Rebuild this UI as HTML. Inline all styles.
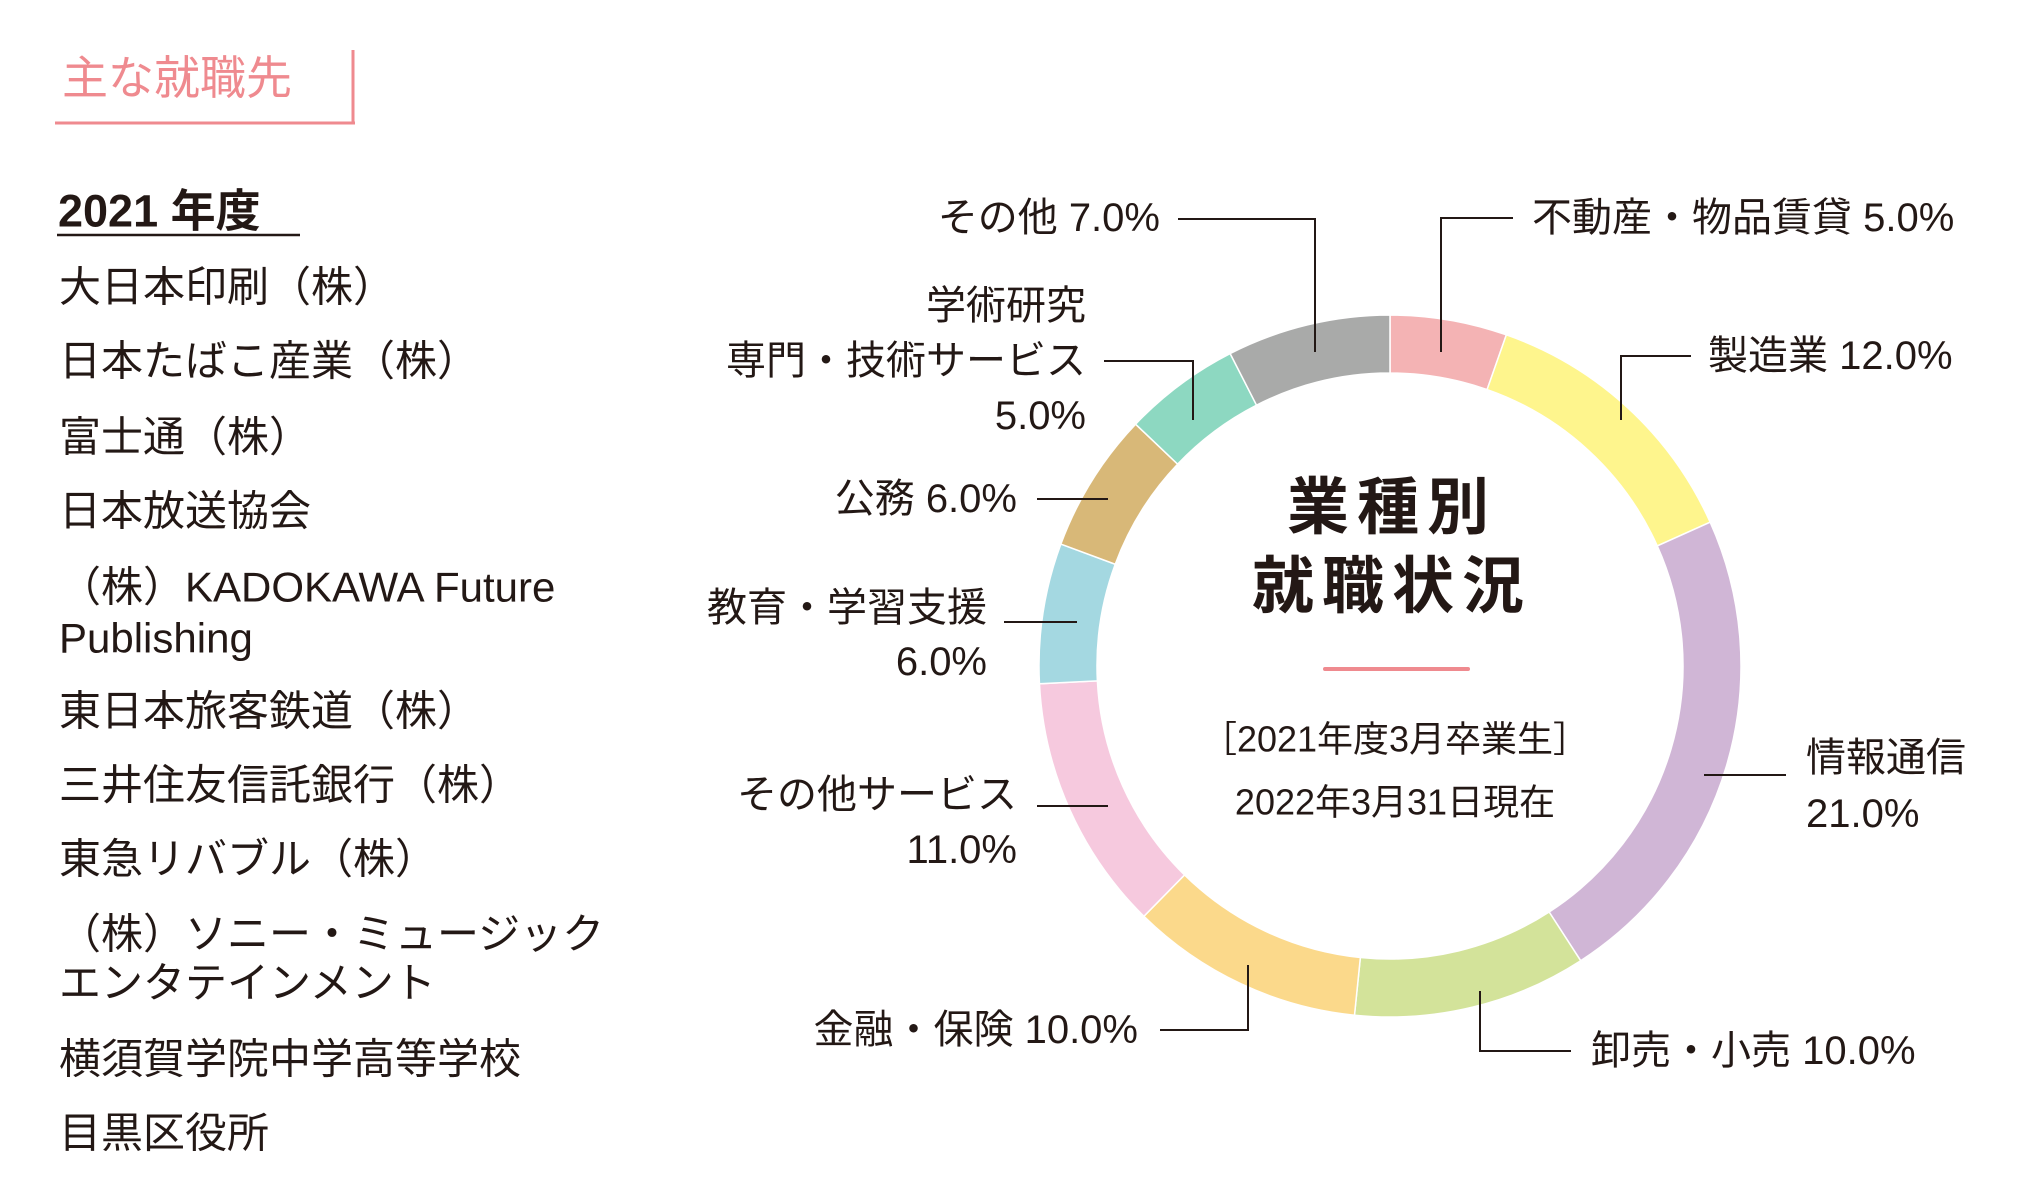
<!DOCTYPE html>
<html><head><meta charset="utf-8"><style>
html,body{margin:0;padding:0;background:#fff;}
svg{display:block;font-family:"Liberation Sans","Noto Sans CJK JP",sans-serif;}
</style></head><body>
<svg id="chart" width="2035" height="1200" viewBox="0 0 2035 1200">
<g>
<text x="62" y="78" font-size="46" fill="#ef8a8f" dominant-baseline="central">主な就職先</text>
<line x1="55" y1="123" x2="355" y2="123" stroke="#ef8a8f" stroke-width="3"/>
<line x1="353" y1="50" x2="353" y2="124" stroke="#ef8a8f" stroke-width="3"/>
</g>
<g fill="#231815" font-size="42">
<text x="58" y="211" font-size="45" font-weight="bold" dominant-baseline="central">2021 年度</text>
<line x1="57" y1="235" x2="300" y2="235" stroke="#231815" stroke-width="2.5"/>
<text x="59" y="287" dominant-baseline="central">大日本印刷（株）</text>
<text x="59" y="361" dominant-baseline="central">日本たばこ産業（株）</text>
<text x="59" y="437" dominant-baseline="central">富士通（株）</text>
<text x="59" y="511" dominant-baseline="central">日本放送協会</text>
<text x="59" y="587" dominant-baseline="central">（株）KADOKAWA Future</text>
<text x="59" y="638" dominant-baseline="central">Publishing</text>
<text x="59" y="711" dominant-baseline="central">東日本旅客鉄道（株）</text>
<text x="59" y="785" dominant-baseline="central">三井住友信託銀行（株）</text>
<text x="59" y="859" dominant-baseline="central">東急リバブル（株）</text>
<text x="59" y="934" dominant-baseline="central">（株）ソニー・ミュージック</text>
<text x="59" y="983" dominant-baseline="central">エンタテインメント</text>
<text x="59" y="1059" dominant-baseline="central">横須賀学院中学高等学校</text>
<text x="59" y="1133" dominant-baseline="central">目黒区役所</text>
</g>
<g id="donut"></g>
<g fill="#231815" text-anchor="middle">
<text x="1392" y="508" font-size="62" font-weight="bold" letter-spacing="8" dominant-baseline="central">業種別</text>
<text x="1392" y="587" font-size="62" font-weight="bold" letter-spacing="8" dominant-baseline="central">就職状況</text>
<line x1="1325" y1="669" x2="1468" y2="669" stroke="#ef8a8f" stroke-width="4" stroke-linecap="round"/>
<text x="1395" y="739" font-size="36" dominant-baseline="central">［2021年度3月卒業生］</text>
<text x="1395" y="802" font-size="36" dominant-baseline="central">2022年3月31日現在</text>
</g>
<g fill="none" stroke="#231815" stroke-width="2">
<polyline points="1178,219 1315,219 1315,352"/>
<polyline points="1441,352 1441,218 1513,218"/>
<polyline points="1621,420 1621,356 1691,356"/>
<polyline points="1704,775 1786,775"/>
<polyline points="1480,991 1480,1051 1571,1051"/>
<polyline points="1160,1030 1248,1030 1248,965"/>
<polyline points="1037,806 1108,806"/>
<polyline points="1004,622 1077,622"/>
<polyline points="1037,499 1108,499"/>
<polyline points="1104,361 1193,361 1193,420"/>
</g>
<g fill="#231815" font-size="40" dominant-baseline="central">
<text x="1160" y="218" text-anchor="end" dominant-baseline="central">その他 7.0%</text>
<text x="1532" y="218" dominant-baseline="central">不動産・物品賃貸 5.0%</text>
<text x="1708" y="356" dominant-baseline="central">製造業 12.0%</text>
<text x="1806" y="758" dominant-baseline="central">情報通信</text>
<text x="1806" y="814" dominant-baseline="central">21.0%</text>
<text x="1591" y="1051" dominant-baseline="central">卸売・小売 10.0%</text>
<text x="1138" y="1030" text-anchor="end" dominant-baseline="central">金融・保険 10.0%</text>
<text x="1017" y="795" text-anchor="end" dominant-baseline="central">その他サービス</text>
<text x="1017" y="850" text-anchor="end" dominant-baseline="central">11.0%</text>
<text x="987" y="608" text-anchor="end" dominant-baseline="central">教育・学習支援</text>
<text x="987" y="662" text-anchor="end" dominant-baseline="central">6.0%</text>
<text x="1017" y="499" text-anchor="end" dominant-baseline="central">公務 6.0%</text>
<text x="1086" y="306" text-anchor="end" dominant-baseline="central">学術研究</text>
<text x="1086" y="361" text-anchor="end" dominant-baseline="central">専門・技術サービス</text>
<text x="1086" y="416" text-anchor="end" dominant-baseline="central">5.0%</text>
</g>
</svg>
<script>
const categories = ["不動産・物品賃貸","製造業","情報通信","卸売・小売","金融・保険","その他サービス","教育・学習支援","公務","学術研究","その他"];
const values = [5,12,21,10,10,11,6,6,5,7];
const colors = ["#f4b3b4","#fef58d","#d0b6d6","#d3e39a","#fbd98b","#f6c9de","#a4d8e1","#d8b878","#8dd8c1","#a9aaa9"];
(function(){
  const cx=1390, cy=666, R=351, r=293;
  const total=values.reduce((a,b)=>a+b,0);
  const g=document.getElementById('donut');
  const pt=(a,rad)=>[cx+rad*Math.sin(a), cy-rad*Math.cos(a)];
  let acc=0;
  values.forEach((v,i)=>{
    const a0=acc/total*2*Math.PI; acc+=v; const a1=acc/total*2*Math.PI;
    const large=(a1-a0)>Math.PI?1:0;
    const [x0,y0]=pt(a0,R),[x1,y1]=pt(a1,R),[x2,y2]=pt(a1,r),[x3,y3]=pt(a0,r);
    const p=document.createElementNS('http://www.w3.org/2000/svg','path');
    p.setAttribute('d',`M${x0},${y0} A${R},${R} 0 ${large} 1 ${x1},${y1} L${x2},${y2} A${r},${r} 0 ${large} 0 ${x3},${y3} Z`);
    p.setAttribute('fill',colors[i]);
    p.setAttribute('stroke','#fff');
    p.setAttribute('stroke-width','1.5');
    
    
    g.appendChild(p);
  });
})();
</script>
</body></html>
